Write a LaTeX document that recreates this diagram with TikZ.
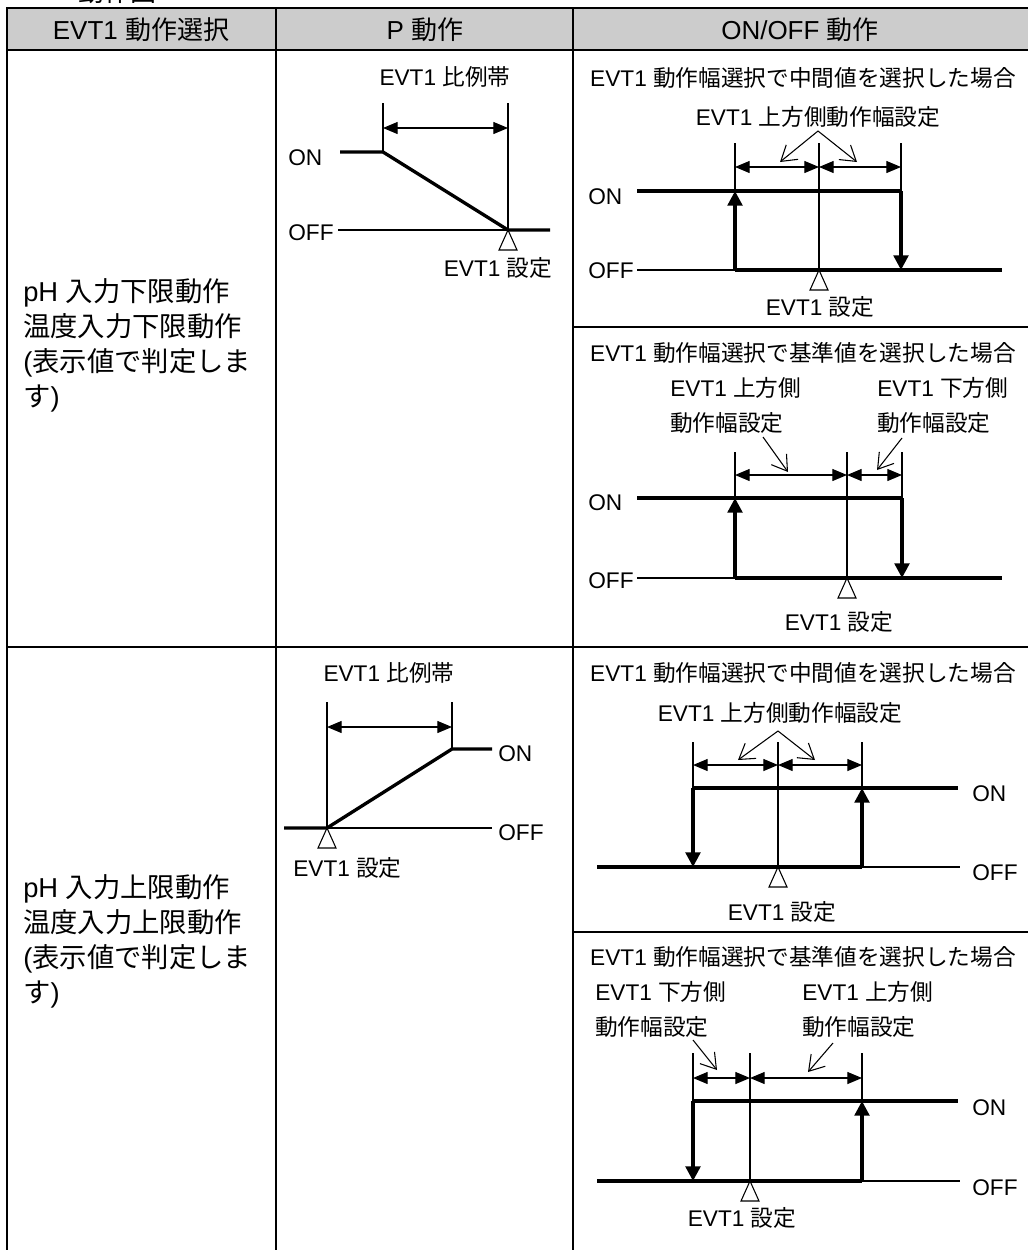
\documentclass[tikz,border=0pt]{standalone}
\usepackage{fontspec}
\setmainfont{Liberation Sans}
\newfontfamily\cjk{Noto Sans CJK JP}
\usetikzlibrary{arrows.meta}
\newcommand\J[1]{{\cjk #1}}
\definecolor{hdrgray}{RGB}{204,204,204}
\tikzset{
  thickln/.style={line width=2.5pt},
  thinln/.style={line width=0.9pt},
  border/.style={line width=2pt},
  dimarrow/.style={line width=0.9pt,{Triangle[length=11pt,width=9pt]}-{Triangle[length=11pt,width=9pt]}},
  ptr/.style={line width=0.8pt,-{Straight Barb[length=11pt,width=14pt,line width=0.8pt]}},
  swarrow/.style={line width=2.5pt,-{Triangle[length=11pt,width=11pt]}},
  trimark/.style={line width=0.8pt,fill=white},
  txt/.style={anchor=base,inner sep=0pt,font=\fontsize{17}{20}\selectfont},
  txtw/.style={anchor=base west,inner sep=0pt,font=\fontsize{17}{20}\selectfont},
  hdr/.style={anchor=base,inner sep=0pt,font=\fontsize{19.5}{22}\selectfont},
  lefttxt/.style={anchor=base west,inner sep=0pt,font=\fontsize{20.5}{22}\selectfont},
}
\newcommand\trimk[2]{\draw[trimark] (#1,#2) -- ++(-9,20) -- ++(18,0) -- cycle;}
\begin{document}
\begin{tikzpicture}[x=0.75pt,y=-0.75pt]
\useasboundingbox (0,0) rectangle (1028,1250);
\clip (0,0) rectangle (1028,1250);
% partial caption at top
\node[hdr] (cap) at (117,1) {\J{動作図}};
% header
\fill[hdrgray] (7,8) rectangle (1032,50);
\draw[border] (1032,8) -- (7,8) -- (7,1254);
\draw[border] (7,50) -- (1032,50);
\draw[border] (276,8) -- (276,1254);
\draw[border] (573,8) -- (573,1254);
\draw[border] (7,647) -- (1032,647);
\draw[border] (573,327) -- (1032,327);
\draw[border] (573,932) -- (1032,932);
\node[hdr] (h1) at (141,39) {EVT1 \J{動作選択}};
\node[hdr] (h2) at (425,39) {P \J{動作}};
\node[hdr] (h3) at (800,39) {ON/OFF \J{動作}};
% left column
\node[lefttxt] (l1a) at (23,301.5) {pH \J{入力下限動作}};
\node[lefttxt] (l1b) at (23,336.5) {\J{温度入力下限動作}};
\node[lefttxt] (l1c) at (23,371.5) {(\J{表示値で判定しま}};
\node[lefttxt] (l1d) at (23,406.5) {\J{す})};
\node[lefttxt] (l2a) at (23,897.5) {pH \J{入力上限動作}};
\node[lefttxt] (l2b) at (23,932.5) {\J{温度入力上限動作}};
\node[lefttxt] (l2c) at (23,967.5) {(\J{表示値で判定しま}};
\node[lefttxt] (l2d) at (23,1002.5) {\J{す})};
% ---------- P action, row 1
\node[txt] (p1t) at (445,85.5) {EVT1 \J{比例帯}};
\draw[thinln] (383,103) -- (383,152);
\draw[thinln] (508,103) -- (508,230);
\draw[dimarrow] (383,128) -- (508,128);
\draw[thinln] (338,230) -- (508,230);
\draw[thickln] (340,152) -- (383,152) -- (508,230) -- (550,230);
\node[txtw] (p1on) at (288,165) {ON};
\node[txtw] (p1off) at (288,240) {OFF};
\trimk{508}{230}
\node[txt] (p1s) at (498,276.5) {EVT1 \J{設定}};
% ---------- ON/OFF 1a
\node[txt] (a1t) at (803,86.5) {EVT1 \J{動作幅選択で中間値を選択した場合}};
\node[txt] (a1u) at (818,125.5) {EVT1 \J{上方側動作幅設定}};
\draw[thinln] (735,143) -- (735,191);
\draw[thinln] (819,143) -- (819,270);
\draw[thinln] (901,143) -- (901,191);
\draw[dimarrow] (735,167) -- (819,167);
\draw[dimarrow] (819,167) -- (901,167);
\draw[ptr] (818,131) -- (780,162);
\draw[ptr] (818,131) -- (857,162);
\draw[thickln] (637,191) -- (901,191);
\draw[thinln] (637,270) -- (735,270);
\draw[thickln] (735,270) -- (1002,270);
\draw[swarrow] (735,270) -- (735,191);
\draw[swarrow] (901,191) -- (901,270);
\node[txtw] (a1on) at (588,204) {ON};
\node[txtw] (a1off) at (588,278) {OFF};
\trimk{819}{270}
\node[txt] (a1s) at (820,315.5) {EVT1 \J{設定}};
% ---------- ON/OFF 1b
\node[txt] (b1t) at (803,361.5) {EVT1 \J{動作幅選択で基準値を選択した場合}};
\node[txtw] (b1u1) at (670,396.5) {EVT1 \J{上方側}};
\node[txtw] (b1u2) at (670,431.5) {\J{動作幅設定}};
\node[txtw] (b1d1) at (877,396.5) {EVT1 \J{下方側}};
\node[txtw] (b1d2) at (877,431.5) {\J{動作幅設定}};
\draw[thinln] (735,452) -- (735,498);
\draw[thinln] (847,452) -- (847,578);
\draw[thinln] (902,452) -- (902,498);
\draw[dimarrow] (735,475) -- (847,475);
\draw[dimarrow] (847,475) -- (902,475);
\draw[ptr] (763,437) -- (788,472);
\draw[ptr] (902,438) -- (877,470);
\draw[thickln] (637,498) -- (902,498);
\draw[thinln] (637,578) -- (735,578);
\draw[thickln] (735,578) -- (1002,578);
\draw[swarrow] (735,578) -- (735,498);
\draw[swarrow] (902,498) -- (902,578);
\node[txtw] (b1on) at (588,510) {ON};
\node[txtw] (b1off) at (588,588) {OFF};
\trimk{847}{578}
\node[txt] (b1s) at (839,630.5) {EVT1 \J{設定}};
% ---------- P action, row 2
\node[txt] (p2t) at (389,681.5) {EVT1 \J{比例帯}};
\draw[thinln] (327,702) -- (327,828);
\draw[thinln] (452,702) -- (452,749);
\draw[dimarrow] (327,727) -- (452,727);
\draw[thinln] (327,828) -- (492,828);
\draw[thickln] (284,828) -- (327,828) -- (452,749) -- (492,749);
\node[txtw] (p2on) at (498,761) {ON};
\node[txtw] (p2off) at (498,840) {OFF};
\trimk{327}{828}
\node[txtw] (p2s) at (293,876.5) {EVT1 \J{設定}};
% ---------- ON/OFF 2a
\node[txt] (a2t) at (803,681.5) {EVT1 \J{動作幅選択で中間値を選択した場合}};
\node[txt] (a2u) at (780,721.5) {EVT1 \J{上方側動作幅設定}};
\draw[ptr] (778,731) -- (738,760);
\draw[ptr] (778,731) -- (815,760);
\draw[thinln] (693,742) -- (693,788);
\draw[thinln] (778,742) -- (778,867);
\draw[thinln] (862,742) -- (862,788);
\draw[dimarrow] (693,765) -- (778,765);
\draw[dimarrow] (778,765) -- (862,765);
\draw[thickln] (693,788) -- (958,788);
\draw[thickln] (597,867) -- (862,867);
\draw[thinln] (862,867) -- (960,867);
\draw[swarrow] (693,788) -- (693,867);
\draw[swarrow] (862,867) -- (862,788);
\node[txtw] (a2on) at (972,801) {ON};
\node[txtw] (a2off) at (972,880) {OFF};
\trimk{778}{867}
\node[txt] (a2s) at (782,920.5) {EVT1 \J{設定}};
% ---------- ON/OFF 2b
\node[txt] (b2t) at (803,965.5) {EVT1 \J{動作幅選択で基準値を選択した場合}};
\node[txtw] (b2d1) at (595,1000.5) {EVT1 \J{下方側}};
\node[txtw] (b2d2) at (595,1035.5) {\J{動作幅設定}};
\node[txtw] (b2u1) at (802,1000.5) {EVT1 \J{上方側}};
\node[txtw] (b2u2) at (802,1035.5) {\J{動作幅設定}};
\draw[thinln] (693,1053) -- (693,1101);
\draw[thinln] (750,1053) -- (750,1181);
\draw[thinln] (862,1053) -- (862,1101);
\draw[dimarrow] (693,1078) -- (750,1078);
\draw[dimarrow] (750,1078) -- (862,1078);
\draw[ptr] (693,1040) -- (717,1070);
\draw[ptr] (833,1043) -- (808,1072);
\draw[thickln] (693,1101) -- (958,1101);
\draw[thickln] (597,1181) -- (862,1181);
\draw[thinln] (862,1181) -- (960,1181);
\draw[swarrow] (693,1101) -- (693,1181);
\draw[swarrow] (862,1181) -- (862,1101);
\node[txtw] (b2on) at (972,1115) {ON};
\node[txtw] (b2off) at (972,1195) {OFF};
\trimk{750}{1181}
\node[txt] (b2s) at (742,1226.5) {EVT1 \J{設定}};
\end{tikzpicture}
\end{document}
